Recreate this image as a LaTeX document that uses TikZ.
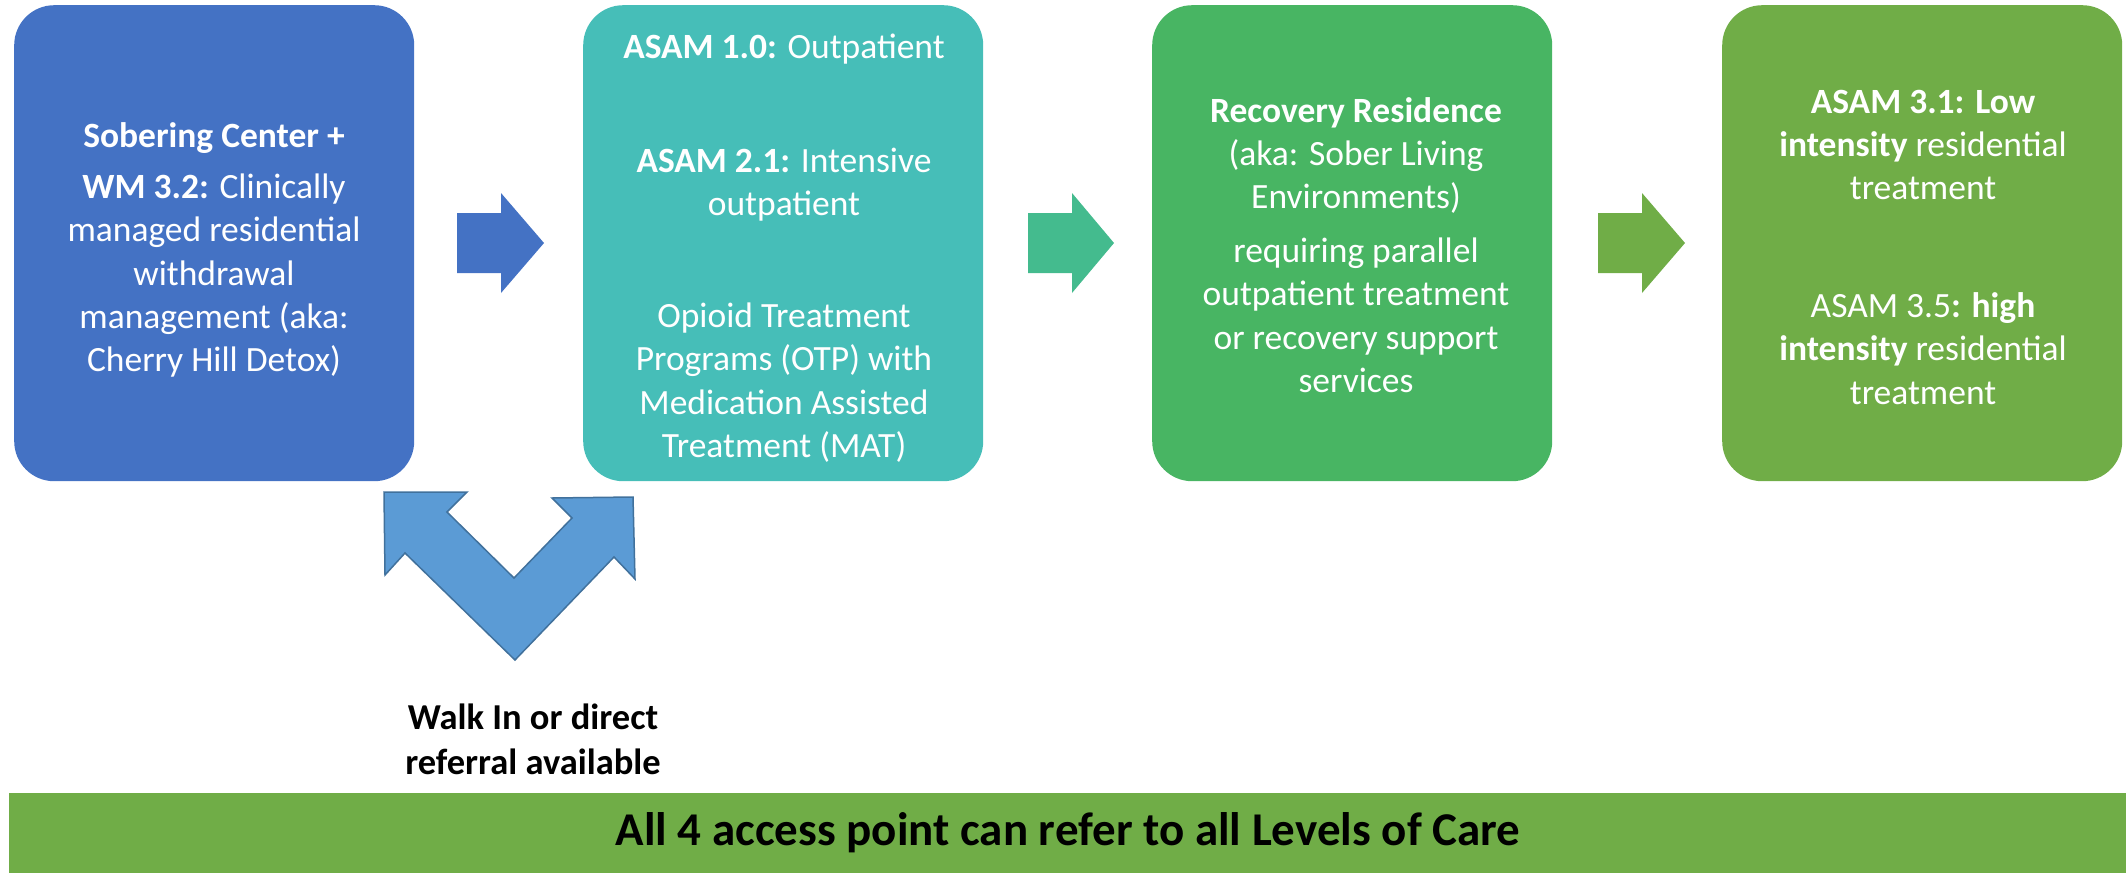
\documentclass[tikz,border=0pt]{standalone}
\usepackage{fontspec}
\setmainfont{Carlito}
\definecolor{cblue}{HTML}{4472C4}
\definecolor{cteal}{HTML}{46BEB8}
\definecolor{cteala}{HTML}{44BB8E}
\definecolor{cgreen}{HTML}{48B563}
\definecolor{colive}{HTML}{70AD47}
\definecolor{vfill}{HTML}{5B9BD5}
\definecolor{vdraw}{HTML}{41719C}
\begin{document}
\begin{tikzpicture}[x=1pt,y=-1pt,
  box/.style={rounded corners=40pt, minimum width=400pt, minimum height=476pt, inner sep=0pt, anchor=north west},
  boxtext/.style={text=white, align=center, font=\fontsize{35.5}{43.4}\selectfont, inner sep=0pt},
  blk/.style={draw=none}]
\useasboundingbox (0,0) rectangle (2126,873);
% boxes
\node[box, fill=cblue] (b1) at (14,5) {};
\node[box, fill=cteal] (b2) at (583,5) {};
\node[box, fill=cgreen] (b3) at (1152,5) {};
\node[box, fill=colive] (b4) at (1722,5) {};
% box texts
\node[boxtext] (t1) at (214,250) {\textbf{Sobering Center +}\\[7.6pt]
\textbf{WM 3.2:} Clinically\\managed residential\\withdrawal\\management (aka:\\Cherry Hill Detox)};
\node[boxtext] (t2) at (784,248) {\textbf{ASAM 1.0:} Outpatient\\[71pt]
\textbf{ASAM 2.1:} Intensive\\outpatient\\[68pt]
Opioid Treatment\\Programs (OTP) with\\Medication Assisted\\Treatment (MAT)};
\node[boxtext] (t3) at (1356,245) {\textbf{Recovery Residence}\\(aka: Sober Living\\Environments)\\[10pt]
requiring parallel\\outpatient treatment\\or recovery support\\services};
\node[boxtext] (t4) at (1923,247) {\textbf{ASAM 3.1: Low}\\\textbf{intensity} residential\\treatment\\[74pt]
ASAM 3.5\textbf{: high}\\\textbf{intensity} residential\\treatment};
% block arrows
\fill[cblue] (457,213) -- (501,213) -- (501,193) -- (544,243) -- (501,293) -- (501,273) -- (457,273) -- cycle;
\fill[cteala] (1028,213) -- (1072,213) -- (1072,193) -- (1114,243) -- (1072,293) -- (1072,273) -- (1028,273) -- cycle;
\fill[colive] (1598,213) -- (1642,213) -- (1642,193) -- (1685,243) -- (1642,293) -- (1642,273) -- (1598,273) -- cycle;
% V double arrow
\filldraw[fill=vfill, draw=vdraw, line width=1.5pt, line join=miter]
 (384,492) -- (467,492) -- (447,512) -- (514,578) -- (572,518) -- (552,498) -- (633,497)
 -- (635,579) -- (614,557) -- (515,660) -- (405,553) -- (385,575) -- cycle;
\node[align=center, font=\fontsize{36.5}{45}\selectfont\bfseries, inner sep=0pt] (walk) at (533,739)
 {Walk In or direct\\referral available};
% bottom bar
\node[fill=colive, minimum width=2117pt, minimum height=80pt, inner sep=0pt, anchor=north west] (bar) at (9,793) {};
\node[font=\fontsize{47}{54}\selectfont\bfseries, inner sep=0pt] (bartext) at (1068,833) {All 4 access point can refer to all Levels of Care};
\end{tikzpicture}
\end{document}
